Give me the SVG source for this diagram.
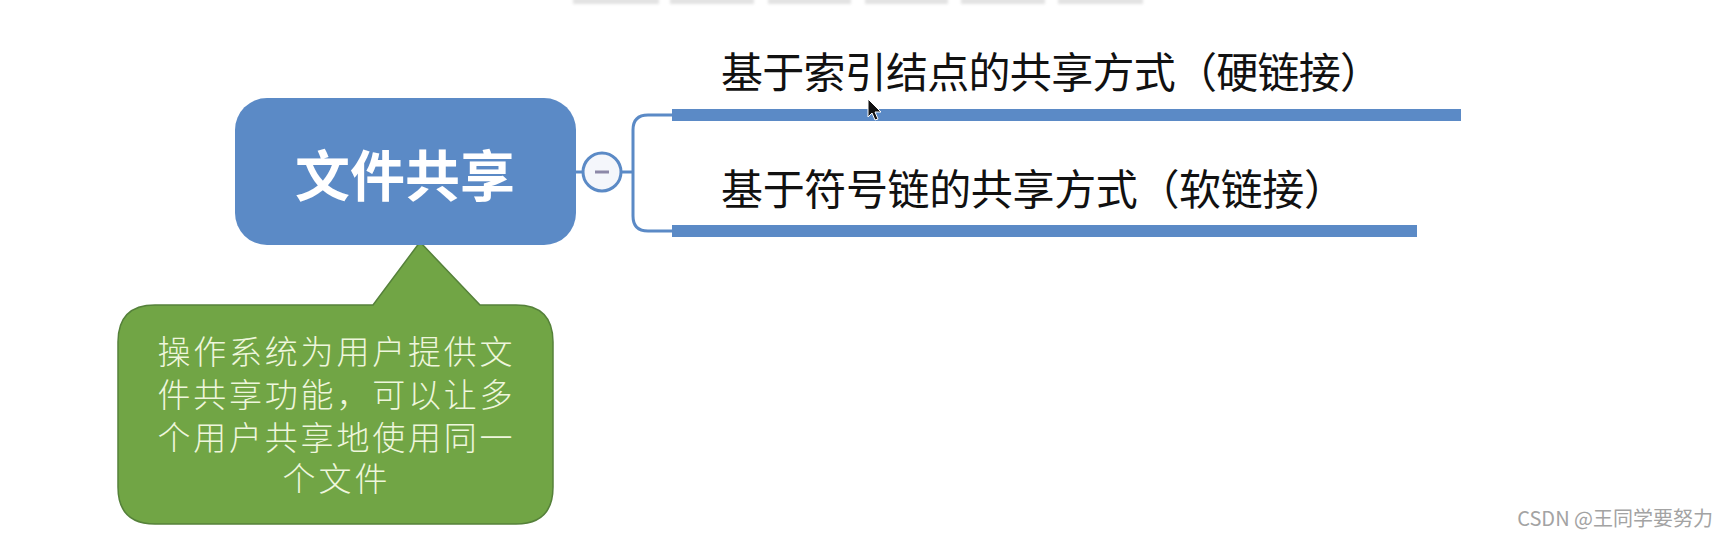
<svg xmlns="http://www.w3.org/2000/svg" width="1727" height="537" viewBox="0 0 1727 537">
<defs>
<style>
.cjk{font-family:"Noto Sans CJK SC","Noto Sans",sans-serif;}
.cjk2{font-family:"Liberation Sans","Noto Sans CJK SC",sans-serif;}
.branch{font-size:42px;fill:#111;}
.callout{font-size:33px;font-weight:300;fill:#eef6dc;text-anchor:middle;}
.bar{fill:#5b8ac6;}
.thin{fill:none;stroke:#5b8ac6;stroke-width:3;}
.tab{fill:#e2e2e2;}
</style>
<filter id="sh" x="-10%" y="-50%" width="120%" height="300%"><feGaussianBlur stdDeviation="1.5"/></filter>
</defs>
<rect width="1727" height="537" fill="#ffffff"/>
<g id="toolbar" filter="url(#sh)">
<rect class="tab" x="573" y="-2" width="86" height="6"/>
<rect class="tab" x="670" y="-2" width="84" height="6"/>
<rect class="tab" x="768" y="-2" width="83" height="6"/>
<rect class="tab" x="865" y="-2" width="83" height="6"/>
<rect class="tab" x="961" y="-2" width="84" height="6"/>
<rect class="tab" x="1058" y="-2" width="85" height="6"/>
</g>
<g id="connectors">
<line class="thin" x1="576" y1="172" x2="583" y2="172"/>
<line class="thin" x1="622" y1="172" x2="633" y2="172"/>
<path class="thin" d="M672,115 H648 Q633,115 633,130 V216 Q633,231 648,231 H672"/>
<rect class="bar" x="672" y="109" width="789" height="12"/>
<rect class="bar" x="672" y="225" width="745" height="12"/>
</g>
<g id="callout">
<path d="M155,305 H373 L420,242 L480,305 H516 Q553,305 553,342 V487 Q553,524 516,524 H155 Q118,524 118,487 V342 Q118,305 155,305 Z" fill="#71a545" stroke="#55813a" stroke-width="1.5"/>
<text class="cjk2 callout" x="335" y="364" textLength="355" lengthAdjust="spacing">操作系统为用户提供文</text>
<text class="cjk2 callout" x="335" y="407" textLength="355" lengthAdjust="spacing">件共享功能，可以让多</text>
<text class="cjk2 callout" x="335" y="450" textLength="355" lengthAdjust="spacing">个用户共享地使用同一</text>
<text class="cjk2 callout" x="335" y="491" textLength="105" lengthAdjust="spacing">个文件</text>
</g>
<g id="root">
<rect x="235" y="98" width="341" height="147" rx="32" ry="32" fill="#5b8ac6"/>
<text class="cjk" x="405" y="196" font-size="55" font-weight="bold" fill="#ffffff" text-anchor="middle">文件共享</text>
</g>
<g id="collapse">
<circle cx="602" cy="172" r="19" fill="#f4f6fb" stroke="#5b8ac6" stroke-width="3"/>
<rect x="595" y="170.5" width="14" height="3" fill="#8c88a8"/>
</g>
<g id="branch1">
<text class="cjk branch" x="721" y="88" textLength="661" lengthAdjust="spacing">基于索引结点的共享方式（硬链接）</text>
</g>
<g id="branch2">
<text class="cjk branch" x="721" y="205" textLength="625" lengthAdjust="spacing">基于符号链的共享方式（软链接）</text>
</g>
<g id="cursor">
<path d="M868,99 L868,117 L872,113 L875,120 L878,119 L875,112 L881,112 Z" fill="#111" stroke="#fff" stroke-width="1"/>
</g>
<text class="cjk" x="1713" y="526" font-size="20" fill="#a3a3a3" text-anchor="end">CSDN @王同学要努力</text>
</svg>
